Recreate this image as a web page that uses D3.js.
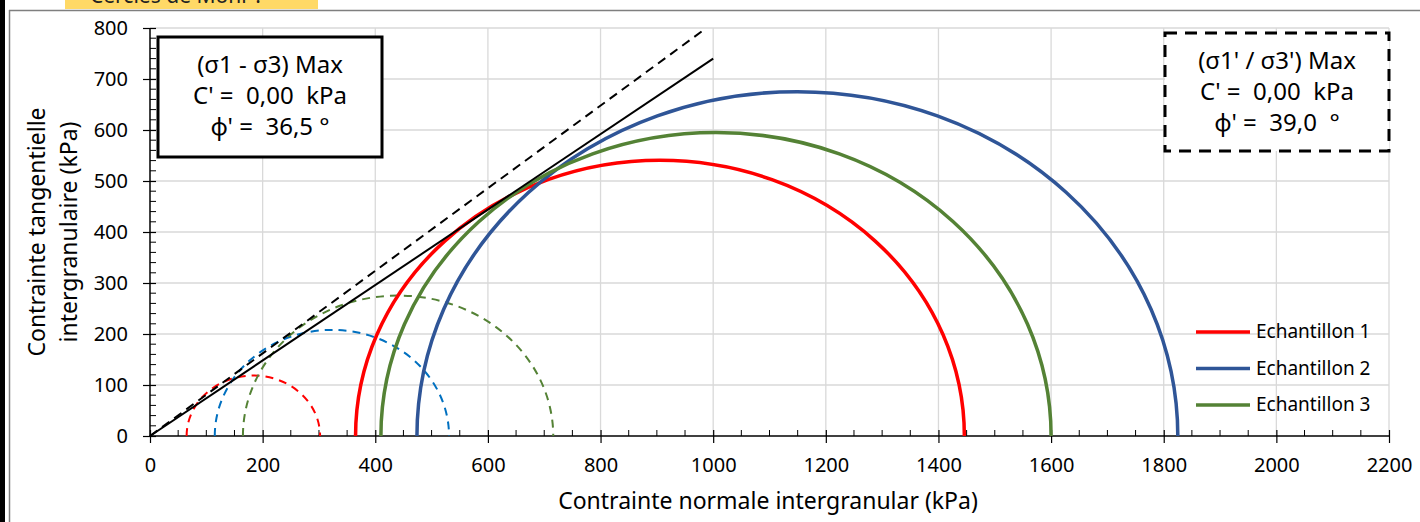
<!DOCTYPE html>
<html>
<head>
<meta charset="utf-8">
<script src="https://cdn.jsdelivr.net/npm/d3@7"></script>
<style>
body { margin: 0; background: #fff; }
svg { display: block; font-family: "Noto Sans", "Open Sans", sans-serif; }
.grid line { stroke: #d9d9d9; stroke-width: 1.3; }
</style>
</head>
<body>
<svg id="chart" width="1420" height="522"></svg>
<script>
// samples: sigma3 / sigma1 at failure (kPa)
var samples = ["Echantillon 1", "Echantillon 2", "Echantillon 3"];
var colorsMax = ["#ff0000", "#2f5597", "#548235"];
var colorsRatio = ["#ff0000", "#0070c0", "#548235"];
// (s1 - s3) max criterion -> solid circles
var s3Max = [365, 474, 410];
var s1Max = [1446, 1825, 1600];
// (s1'/s3') max criterion -> dashed circles
var s3Ratio = [65, 115, 165];
var s1Ratio = [302, 531, 716];
// envelopes
var phiMax = 36.5, phiRatio = 39.0;
var envEndMax = 1000, envEndRatio = 988;
var xTicks = d3.range(0, 2201, 200);
var yTicks = d3.range(0, 801, 100);

var svg = d3.select("#chart");
var x = d3.scaleLinear().domain([0, 2200]).range([150, 1389]);
var y = d3.scaleLinear().domain([0, 800]).range([436, 28]);
var font = "'Noto Sans', 'Open Sans', sans-serif";

// outer frame bits
svg.append("rect").attr("x", 0).attr("y", 0).attr("width", 5).attr("height", 522).attr("fill", "#000");
svg.append("line").attr("x1", 9.5).attr("x2", 9.5).attr("y1", 10).attr("y2", 522).attr("stroke", "#7f7f7f").attr("stroke-width", 1.5);
svg.append("line").attr("x1", 9).attr("x2", 1420).attr("y1", 10.5).attr("y2", 10.5).attr("stroke", "#7f7f7f").attr("stroke-width", 1.5);
svg.append("rect").attr("x", 65).attr("y", 0).attr("width", 253).attr("height", 9).attr("fill", "#ffd966");
// title strip is cut by the top edge in the original
svg.append("text").attr("x", 90).attr("y", 3).attr("font-size", 21).attr("fill", "#222").text("Cercles de Mohr :");

// grid
var grid = svg.append("g").attr("class", "grid");
grid.selectAll(".gx").data(xTicks.slice(1)).enter().append("line")
    .attr("x1", function(d) { return x(d); }).attr("x2", function(d) { return x(d); })
    .attr("y1", y(0)).attr("y2", y(800));
grid.selectAll(".gy").data(yTicks.slice(1)).enter().append("line")
    .attr("x1", x(0)).attr("x2", x(2200))
    .attr("y1", function(d) { return y(d); }).attr("y2", function(d) { return y(d); });

// axes
var xMinor = d3.range(0, 2201, 50).filter(function(d) { return d % 200; });
var yMinor = d3.range(0, 801, 20).filter(function(d) { return d % 100; });
var xa = svg.append("g").attr("transform", "translate(0," + y(0) + ")")
    .call(d3.axisBottom(x).tickValues(xTicks).tickFormat(d3.format("d")).tickSize(7).tickPadding(15));
xa.selectAll(".tick line").attr("y1", -6);
xa.select(".domain").remove();
xa.selectAll(".minor").data(xMinor).enter().append("line")
    .attr("x1", function(d) { return x(d); }).attr("x2", function(d) { return x(d); })
    .attr("y1", -6).attr("y2", 0).attr("stroke", "#000");
xa.append("line").attr("x1", x(0)).attr("x2", x(2200)).attr("stroke", "#000").attr("stroke-width", 1.5);

var ya = svg.append("g").attr("transform", "translate(" + x(0) + ",0)")
    .call(d3.axisLeft(y).tickValues(yTicks).tickFormat(d3.format("d")).tickSize(7).tickPadding(15));
ya.selectAll(".tick line").attr("x1", 6);
ya.select(".domain").remove();
ya.selectAll(".minor").data(yMinor).enter().append("line")
    .attr("y1", function(d) { return y(d); }).attr("y2", function(d) { return y(d); })
    .attr("x1", 0).attr("x2", 6).attr("stroke", "#000");
ya.append("line").attr("y1", y(0)).attr("y2", y(800)).attr("stroke", "#000").attr("stroke-width", 1.5);
[xa, ya].forEach(function(a) {
    a.attr("font-size", 20).attr("font-family", font);
    a.selectAll(".tick text").attr("fill", "#000");
    a.selectAll(".tick line").attr("stroke-width", 1.2);
});

// axis titles
svg.append("text").attr("x", 768).attr("y", 509).attr("text-anchor", "middle").attr("font-size", 23)
    .text("Contrainte normale intergranular (kPa)");
var yt = svg.append("text").attr("transform", "translate(0,232) rotate(-90)").attr("text-anchor", "middle").attr("font-size", 23);
yt.append("tspan").attr("x", 0).attr("y", 45).text("Contrainte tangentielle");
yt.append("tspan").attr("x", 0).attr("y", 77).text("intergranulaire (kPa)");

// mohr half-circles
function arcPath(s3, s1) {
    var c = (s3 + s1) / 2, r = (s1 - s3) / 2;
    var rx = x(c + r) - x(c), ry = y(0) - y(r);
    return "M" + x(s3) + "," + y(0) + " A" + rx + "," + ry + " 0 0 1 " + x(s1) + "," + y(0);
}
var plot = svg.append("g");
plot.selectAll(".ratio").data(samples).enter().append("path")
    .attr("d", function(d, i) { return arcPath(s3Ratio[i], s1Ratio[i]); })
    .attr("fill", "none").attr("stroke", function(d, i) { return colorsRatio[i]; })
    .attr("stroke-width", 2).attr("stroke-dasharray", "8,6");
plot.selectAll(".max").data(samples).enter().append("path")
    .attr("d", function(d, i) { return arcPath(s3Max[i], s1Max[i]); })
    .attr("fill", "none").attr("stroke", function(d, i) { return colorsMax[i]; })
    .attr("stroke-width", 3.5);

// envelopes
var tan = function(p) { return Math.tan(p * Math.PI / 180); };
plot.append("line").attr("x1", x(0)).attr("y1", y(0))
    .attr("x2", x(envEndMax)).attr("y2", y(envEndMax * tan(phiMax)))
    .attr("stroke", "#000").attr("stroke-width", 2);
plot.append("line").attr("x1", x(0)).attr("y1", y(0))
    .attr("x2", x(envEndRatio)).attr("y2", y(envEndRatio * tan(phiRatio)))
    .attr("stroke", "#000").attr("stroke-width", 2).attr("stroke-dasharray", "9,6");

// info boxes
function infoBox(bx, by, bw, bh, lines, dashed) {
    var g = svg.append("g");
    g.append("rect").attr("x", bx).attr("y", by).attr("width", bw).attr("height", bh)
        .attr("fill", "#fff").attr("stroke", "#000").attr("stroke-width", 3)
        .attr("stroke-dasharray", dashed ? "12,8" : null);
    lines.forEach(function(t, i) {
        g.append("text").attr("x", bx + bw / 2).attr("y", by + 36 + i * 31)
            .attr("text-anchor", "middle").attr("font-size", 24).attr("xml:space", "preserve").text(t);
    });
}
infoBox(158, 37, 224, 120, ["(σ1 - σ3) Max", "C' =  0,00  kPa", "ϕ' =  36,5 °"], false);
infoBox(1165, 33, 224, 118, ["(σ1' / σ3') Max", "C' =  0,00  kPa", "ϕ' =  39,0  °"], true);

// legend
var lg = svg.append("g").attr("transform", "translate(1196,332)");
samples.forEach(function(s, i) {
    lg.append("line").attr("x1", 0).attr("x2", 54).attr("y1", i * 36.5).attr("y2", i * 36.5)
        .attr("stroke", colorsMax[i]).attr("stroke-width", 3.5);
    lg.append("text").attr("x", 60).attr("y", i * 36.5 + 6).attr("font-size", 19).text(s);
});
</script>
</body>
</html>
